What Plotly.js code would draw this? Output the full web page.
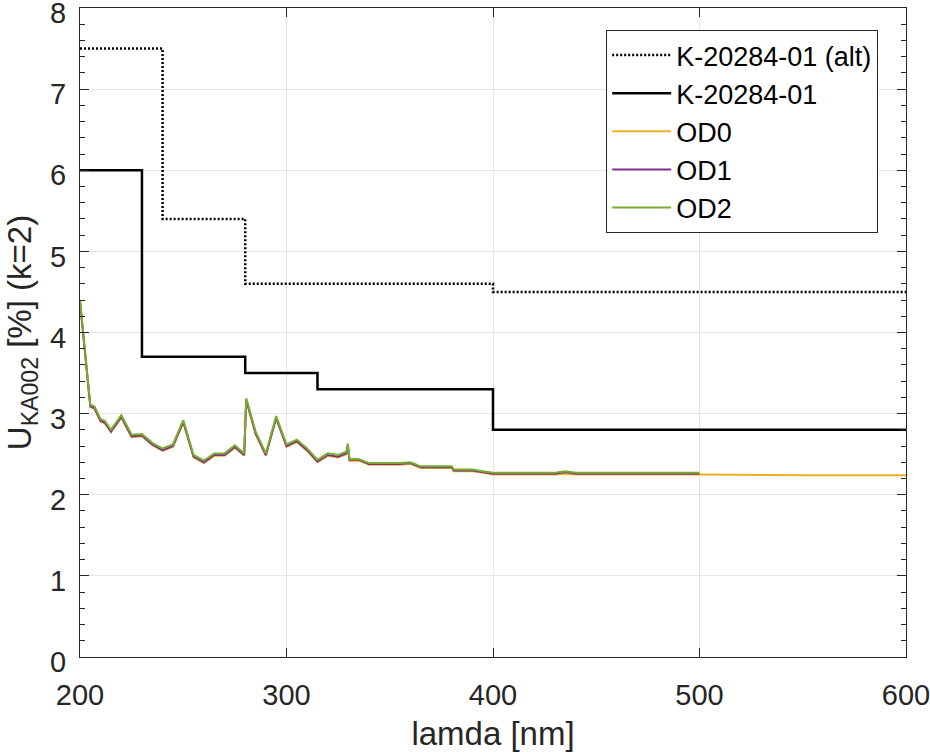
<!DOCTYPE html>
<html>
<head>
<meta charset="utf-8">
<script src="https://cdn.plot.ly/plotly-3.0.1.min.js"></script>
<style>
  html, body { margin: 0; padding: 0; background: #fff; }
  #chart { width: 930px; height: 752px; }
</style>
</head>
<body>
<div id="chart"></div>
<script>
/* uncertainty of the KA002 calibration vs. wavelength */

const INK = '#262626';
const FONT = 'Liberation Sans, Arial, sans-serif';

// reference certificate steps (drawn as 'hv' steps)
const lamdaKAlt = [200, 240, 280, 400, 600];
const uKAlt     = [7.5, 5.4, 4.6, 4.5, 4.5];
const lamdaK    = [200, 230, 280, 315, 400, 600];
const uK        = [6.0, 3.7, 3.5, 3.3, 2.8, 2.8];

// measured curves, OD1 / OD2 end at 500 nm
const lamdaOD = [200, 205, 207, 210, 212, 215, 220, 225, 230, 235,
                 240, 245, 250, 255, 260, 265, 270, 275, 279.5, 280.5,
                 285, 290, 295, 300, 305, 310, 315, 320, 325, 329,
                 329.7, 330.5, 335, 340, 345, 350, 355, 360, 365, 370,
                 375, 380, 381, 385, 390, 395, 400, 410, 420, 430,
                 435, 440, 450, 460, 470, 480, 490, 500];
const uOD2 = [4.40, 3.11, 3.09, 2.93, 2.91, 2.80, 2.98, 2.74, 2.75, 2.64,
              2.57, 2.62, 2.92, 2.49, 2.42, 2.51, 2.51, 2.61, 2.51, 3.19,
              2.78, 2.51, 2.97, 2.62, 2.68, 2.57, 2.43, 2.51, 2.49, 2.53,
              2.63, 2.44, 2.44, 2.39, 2.39, 2.39, 2.39, 2.40, 2.35, 2.35,
              2.35, 2.35, 2.31, 2.31, 2.31, 2.29, 2.27, 2.27, 2.27, 2.27,
              2.29, 2.27, 2.27, 2.27, 2.27, 2.27, 2.27, 2.27];
const uOD1 = [4.38, 3.09, 3.07, 2.91, 2.89, 2.78, 2.96, 2.72, 2.73, 2.62,
              2.55, 2.60, 2.90, 2.47, 2.40, 2.49, 2.49, 2.59, 2.49, 3.17,
              2.76, 2.49, 2.95, 2.60, 2.66, 2.55, 2.41, 2.49, 2.47, 2.51,
              2.61, 2.43, 2.43, 2.38, 2.38, 2.38, 2.38, 2.39, 2.34, 2.34,
              2.34, 2.34, 2.30, 2.30, 2.30, 2.28, 2.26, 2.26, 2.26, 2.26,
              2.28, 2.26, 2.26, 2.26, 2.26, 2.26, 2.26, 2.26];

// OD0 continues to 600 nm
const lamdaOD0 = [200, 205, 207, 210, 212, 215, 220, 225, 230, 235,
                  240, 245, 250, 255, 260, 265, 270, 275, 279.5, 280.5,
                  285, 290, 295, 300, 305, 310, 315, 320, 325, 329,
                  329.7, 330.5, 335, 340, 345, 350, 355, 360, 365, 370,
                  375, 380, 381, 385, 390, 395, 400, 410, 420, 430,
                  435, 440, 450, 460, 470, 480, 490, 500, 550, 600];
const uOD0 = [4.37, 3.08, 3.06, 2.90, 2.88, 2.77, 2.95, 2.71, 2.72, 2.61,
              2.54, 2.59, 2.89, 2.46, 2.39, 2.48, 2.48, 2.58, 2.48, 3.16,
              2.75, 2.48, 2.94, 2.59, 2.65, 2.54, 2.40, 2.48, 2.46, 2.50,
              2.60, 2.42, 2.42, 2.37, 2.37, 2.37, 2.37, 2.38, 2.33, 2.33,
              2.33, 2.33, 2.29, 2.29, 2.29, 2.27, 2.25, 2.25, 2.25, 2.25,
              2.26, 2.25, 2.25, 2.25, 2.25, 2.25, 2.25, 2.25, 2.24, 2.24];

const traces = [
  { name: 'K-20284-01 (alt)', x: lamdaKAlt, y: uKAlt, mode: 'lines',
    line: { color: '#000', width: 2.5, dash: '2px,2px', shape: 'hv' } },
  { name: 'K-20284-01', x: lamdaK, y: uK, mode: 'lines',
    line: { color: '#000', width: 2.5, shape: 'hv' } },
  { name: 'OD0', x: lamdaOD0, y: uOD0, mode: 'lines',
    line: { color: '#EDB120', width: 2 } },
  { name: 'OD1', x: lamdaOD, y: uOD1, mode: 'lines',
    line: { color: '#7E2F8E', width: 2 } },
  { name: 'OD2', x: lamdaOD, y: uOD2, mode: 'lines',
    line: { color: '#77AC30', width: 2 } },
];

const axisBase = {
  showline: true, linecolor: INK, linewidth: 1, mirror: 'ticks',
  ticks: 'inside', ticklen: 9, tickcolor: INK, tickwidth: 1,
  showgrid: true, gridcolor: '#e6e6e6', gridwidth: 1,
  zeroline: false,
  ticklabeloverflow: 'allow',
  tickfont: { family: FONT, size: 29, color: INK },
};

const layout = {
  width: 930, height: 752,
  paper_bgcolor: '#fff', plot_bgcolor: '#fff',
  margin: { l: 80, r: 24, t: 8, b: 95 },
  font: { family: FONT, color: INK },
  showlegend: true,
  legend: {
    x: 0.637, y: 0.966, xanchor: 'left', yanchor: 'top',
    bgcolor: '#fff', bordercolor: INK, borderwidth: 1,
    font: { family: FONT, size: 27, color: '#000' },
    itemwidth: 59,
  },
  xaxis: Object.assign({}, axisBase, {
    range: [200, 600], dtick: 100, tick0: 200,
    ticklabelstandoff: 12,
    title: { text: 'lamda [nm]', font: { family: FONT, size: 33, color: INK }, standoff: 14 },
  }),
  yaxis: Object.assign({}, axisBase, {
    range: [0, 8], dtick: 1,
    ticklabelstandoff: 7,
    ticklabelshift: 5,
    minor: { dtick: 0.2, ticks: 'inside', ticklen: 5, tickcolor: INK, showgrid: false },
    title: { text: 'U<sub>KA002</sub> [%] (k=2)', font: { family: FONT, size: 33, color: INK }, standoff: 8 },
  }),
};

Plotly.newPlot('chart', traces, layout, { displayModeBar: false, staticPlot: true });
</script>
</body>
</html>
